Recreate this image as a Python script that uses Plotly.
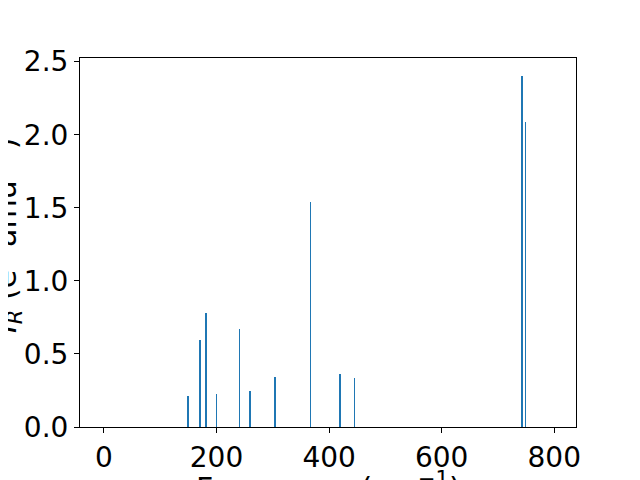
import plotly.graph_objects as go

# Data
frequencies = [149, 171, 182, 200, 241, 260, 304.5, 367, 420, 445, 743, 749]
intensities = [0.21, 0.595, 0.78, 0.225, 0.67, 0.245, 0.34, 1.537, 0.36, 0.335, 2.405, 2.084]
x_ticks = [0, 200, 400, 600, 800]
y_ticks = [0.0, 0.5, 1.0, 1.5, 2.0, 2.5]
x_label = "Frequency (cm<sup>−1</sup>)"
y_label = "<i>I</i><sub><i>R</i></sub> (e<sup>2</sup> amu<sup>−1</sup>)"

# page has an 8px body margin, so the figure is drawn 8px in from the corner
OFF = 8
W, H = 640 - OFF, 480 - OFF
L, R, T, B = 80 - OFF, 64, 58 - OFF, 53
pw, ph = W - L - R, H - T - B

fig = go.Figure()
fig.add_trace(go.Bar(
    x=frequencies, y=intensities, width=1.4,
    marker=dict(color="#1f77b4", line=dict(width=0)),
    showlegend=False,
))

font = dict(family="DejaVu Sans", size=28, color="black")
label_font = dict(family="DejaVu Sans", size=30, color="black")
axis_common = dict(
    showline=True, linecolor="black", linewidth=1, mirror=True,
    ticks="outside", ticklen=5, tickwidth=1, tickcolor="black",
    showgrid=False, zeroline=False, tickfont=font,
)
fig.update_layout(
    width=W, height=H,
    margin=dict(l=L, r=R, t=T, b=B, autoexpand=False),
    paper_bgcolor="white", plot_bgcolor="white",
    font=font,
    bargap=0,
    xaxis=dict(range=[-42.5, 838.6], tickvals=x_ticks,
               ticktext=[str(v) for v in x_ticks], **axis_common),
    yaxis=dict(range=[0, 2.525], tickvals=y_ticks,
               ticktext=[f"{v:.1f}" for v in y_ticks], **axis_common),
)

# axis titles placed as annotations (clipped at figure edges like the reference)
ylab_x_page = 6
ylab_y_page = 236
fig.add_annotation(
    text=y_label, textangle=-90, showarrow=False,
    xref="paper", yref="paper",
    x=(ylab_x_page - OFF - L) / pw,
    y=1 - (ylab_y_page - OFF - T) / ph,
    xanchor="center", yanchor="middle",
    font=label_font,
)
xlab_top_page = 465
fig.add_annotation(
    text=x_label, showarrow=False,
    xref="paper", yref="paper",
    x=0.5, y=-(xlab_top_page - OFF - (T + ph)) / ph, xanchor="center", yanchor="top",
    font=label_font,
)

fig.write_html("out.html")
